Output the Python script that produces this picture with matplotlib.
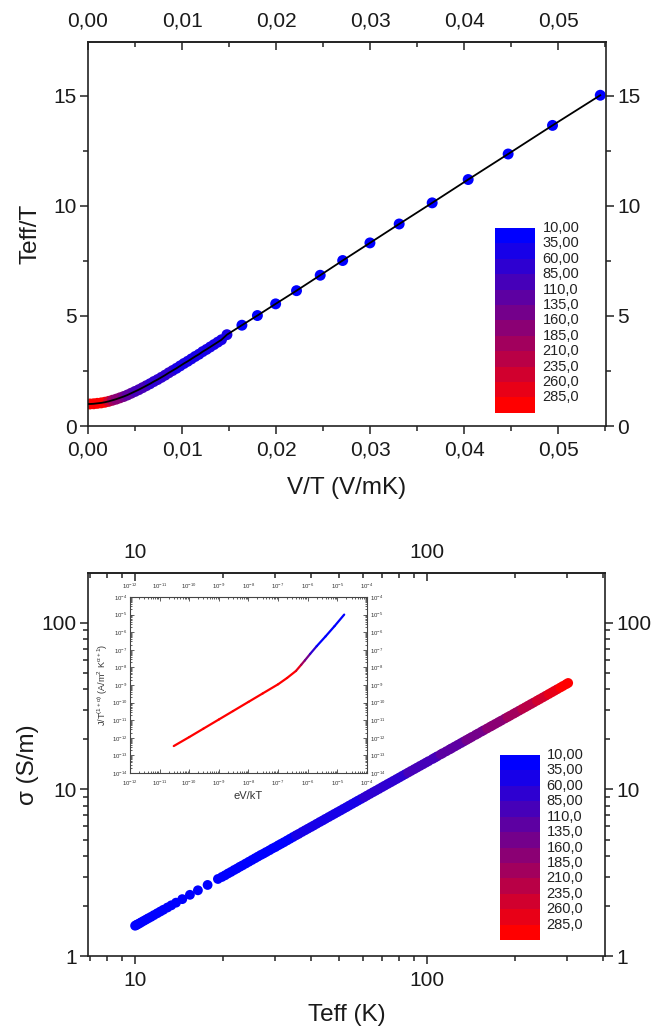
import numpy as np
import matplotlib
matplotlib.use('Agg')
import matplotlib.pyplot as plt
from matplotlib.ticker import FuncFormatter, LogLocator, NullFormatter, FixedLocator
from matplotlib.collections import LineCollection
from matplotlib.colors import ListedColormap

plt.rcParams['font.family'] = ['Liberation Sans', 'DejaVu Sans']
plt.rcParams['mathtext.default'] = 'regular'

# ---------------- data: top panel (Teff/T vs V/T) ----------------
V_BIAS = 0.545  # V, so that T = V / (V/T)
vt_dense = [0.0002, 0.0006, 0.0010, 0.0014, 0.0018, 0.0022, 0.0026, 0.0030, 0.0034,
            0.0038, 0.0042, 0.0046, 0.0050, 0.0054, 0.0058, 0.0062, 0.0066, 0.0070,
            0.0074, 0.0078, 0.0082, 0.0086, 0.0090, 0.0094, 0.0098, 0.0102, 0.0106,
            0.0110, 0.0114, 0.0118, 0.0122, 0.0126, 0.0130, 0.0134, 0.0138, 0.0142]
teffT_dense = [1.00, 1.01, 1.03, 1.05, 1.08, 1.12, 1.17, 1.22, 1.28,
               1.34, 1.41, 1.49, 1.57, 1.65, 1.74, 1.83, 1.92, 2.02,
               2.11, 2.21, 2.31, 2.42, 2.52, 2.62, 2.73, 2.84, 2.94,
               3.05, 3.16, 3.26, 3.38, 3.48, 3.59, 3.70, 3.81, 3.92]
vt_sparse = [0.01478, 0.01637, 0.01802, 0.01996, 0.02218, 0.02470, 0.02709,
             0.02999, 0.03310, 0.03661, 0.04044, 0.04469, 0.04941, 0.05449]
teffT_sparse = [4.15, 4.58, 5.02, 5.55, 6.15, 6.85, 7.52,
                8.32, 9.18, 10.14, 11.20, 12.36, 13.66, 15.03]
fit_start_vt = [0.0]
fit_start_teffT = [1.0]
vt_ticks = [0.00, 0.01, 0.02, 0.03, 0.04, 0.05]
vt_minor = [0.005, 0.015, 0.025, 0.035, 0.045, 0.055]
teffT_ticks = [0, 5, 10, 15]
teffT_minor = [2.5, 7.5, 12.5]

# ---------------- data: bottom panel (sigma vs Teff) ----------------
teff_K = [10.0, 10.1, 10.2, 10.35, 10.5, 10.7, 10.9, 11.1, 11.35, 11.6, 11.9, 12.2, 12.5,
          12.9, 13.3, 13.8, 14.5, 15.4, 16.4, 17.7, 19.2,
          19.8, 20.3, 20.8, 21.3, 21.8, 22.3, 22.8, 23.3, 23.9, 24.5, 25.1, 25.7, 26.3,
          26.9, 27.5, 28.1, 28.8, 29.5, 30.2, 30.9, 31.6, 32.3, 33.1, 33.9, 34.7, 35.5,
          36.3, 37.2, 38.1, 39.0, 39.9, 40.8, 41.8, 42.8, 43.8, 44.8, 45.9, 47.0, 48.1,
          49.2, 50.4, 51.6, 52.8, 54.0, 55.3, 56.6, 57.9, 59.3, 60.7, 62.1, 63.6, 65.1,
          66.6, 68.2, 69.8, 71.4, 73.1, 74.8, 76.6, 78.4, 80.2, 82.1, 84.0, 86.0, 88.0,
          90.1, 92.2, 94.4, 96.6, 98.9, 101, 104, 106, 108, 111, 113, 116, 119, 121,
          124, 127, 130, 133, 136, 139, 142, 146, 149, 153, 156, 160, 164, 167, 171,
          175, 179, 184, 188, 192, 197, 201, 206, 211, 216, 221, 226, 231, 237, 242,
          248, 254, 260, 266, 272, 278, 285, 291, 298, 303]
sigma_Sm = [1.52, 1.535, 1.55, 1.57, 1.595, 1.625, 1.655, 1.685, 1.72, 1.76, 1.805, 1.85, 1.895,
            1.955, 2.015, 2.09, 2.195, 2.33, 2.48, 2.67, 2.90,
            2.98, 3.05, 3.13, 3.20, 3.28, 3.35, 3.43, 3.50, 3.59, 3.68, 3.77, 3.86, 3.95,
            4.04, 4.12, 4.21, 4.31, 4.42, 4.51, 4.62, 4.72, 4.82, 4.94, 5.06, 5.18, 5.30,
            5.41, 5.55, 5.68, 5.81, 5.94, 6.07, 6.22, 6.37, 6.51, 6.66, 6.82, 6.98, 7.14,
            7.30, 7.47, 7.65, 7.82, 8.00, 8.19, 8.38, 8.57, 8.77, 8.97, 9.18, 9.40, 9.62,
            9.83, 10.06, 10.30, 10.53, 10.78, 11.02, 11.28, 11.54, 11.80, 12.08, 12.35, 12.64, 12.93,
            13.23, 13.53, 13.85, 14.16, 14.49, 14.79, 15.22, 15.51, 15.80, 16.23, 16.52, 16.94, 17.37, 17.66,
            18.09, 18.52, 18.95, 19.38, 19.81, 20.24, 20.67, 21.24, 21.67, 22.24, 22.67, 23.23, 23.80, 24.22, 24.78,
            25.35, 25.91, 26.62, 27.18, 27.74, 28.45, 29.02, 29.72, 30.43, 31.13, 31.84, 32.55, 33.25, 34.10, 34.81,
            35.66, 36.51, 37.37, 38.23, 39.09, 39.95, 40.93, 41.80, 42.80, 43.55]
teff_ticks = [10, 100]
sigma_ticks = [1, 10, 100]

# ---------------- data: inset (J/T^(1+a) vs eV/kT) ----------------
inset_evkt = [3.0e-11, 1e-10, 3e-10, 1e-9, 3e-9, 1e-8, 3e-8, 1e-7, 2e-7, 4e-7, 6e-7, 8e-7,
              1.2e-6, 2e-6, 4e-6, 8e-6, 1.7e-5]
inset_J = [3.4e-13, 1.1e-12, 3.3e-12, 1.1e-11, 3.3e-11, 1.1e-10, 3.3e-10, 1.1e-9, 2.5e-9, 6.3e-9,
           1.4e-8, 2.5e-8, 5.8e-8, 1.6e-7, 5.8e-7, 2.2e-6, 1.0e-5]
inset_T = [300, 300, 300, 300, 300, 300, 300, 300, 300, 290, 240, 170, 110, 40, 10, 10, 10]

# ---------------- colour scale ----------------
cbar_bounds = [10, 35, 60, 85, 110, 135, 160, 185, 210, 235, 260, 285, 310]
cbar_labels = ['10,00', '35,00', '60,00', '85,00', '110,0', '135,0', '160,0',
               '185,0', '210,0', '235,0', '260,0', '285,0']
n_lev = len(cbar_labels)
level_colors = [(i / (n_lev - 1), 0.0, 1.0 - i / (n_lev - 1)) for i in range(n_lev)]


def temp_color(T):
    idx = int(np.clip(np.floor((T - cbar_bounds[0]) / 25.0), 0, n_lev - 1))
    return level_colors[idx]


W, H = 654, 1027
fig = plt.figure(figsize=(W / 100, H / 100), dpi=100)


def frac(l, t, r, b):
    return [l / W, 1 - b / H, (r - l) / W, (b - t) / H]


comma2 = FuncFormatter(lambda v, p: f"{v:.2f}".replace('.', ','))
plain = FuncFormatter(lambda v, p: f"{v:g}")
TICK_FS = 15
LABEL_FS = 17.5
INK = '#1a1a1a'


def log_minor(lo_dec, hi_dec):
    return [m * 10.0 ** d for d in range(lo_dec, hi_dec) for m in range(2, 10)]


def style_axes(ax):
    for s in ax.spines.values():
        s.set_linewidth(1.2)
        s.set_color('#222222')
    ax.tick_params(which='both', colors='#222222', labelcolor=INK, width=1.1,
                   labelsize=TICK_FS)
    ax.tick_params(which='major', length=6)
    ax.tick_params(which='minor', length=3.5)
    ax.tick_params(axis='x', which='both', bottom=True, top=False, labelbottom=True,
                   labeltop=False, direction='out', pad=4.5)
    ax.tick_params(axis='y', which='both', left=True, right=True, labelleft=True,
                   labelright=True, direction='out', pad=2)


def top_axis(ax, major, minor, fmt):
    sec = ax.secondary_xaxis('top')
    sec.xaxis.set_major_locator(FixedLocator(major))
    sec.xaxis.set_minor_locator(FixedLocator(minor))
    sec.xaxis.set_major_formatter(fmt)
    sec.xaxis.set_minor_formatter(NullFormatter())
    sec.spines['top'].set_linewidth(1.2)
    sec.spines['top'].set_color('#222222')
    sec.tick_params(which='both', direction='in', colors='#222222', labelcolor=INK,
                    width=1.1, labelsize=TICK_FS, pad=8)
    sec.tick_params(which='major', length=6)
    sec.tick_params(which='minor', length=3.5)
    return sec


# ---------------- top panel ----------------
ax1 = fig.add_axes(frac(88, 42, 606, 426))
vt_all = vt_dense + vt_sparse
teffT_all = teffT_dense + teffT_sparse
cols1 = [temp_color(V_BIAS / v) for v in vt_all]
ax1.scatter(vt_all, teffT_all, s=62, c=cols1, edgecolors='none', zorder=2)
ax1.plot(fit_start_vt + vt_all, fit_start_teffT + teffT_all, color='black', lw=1.3, zorder=3)
ax1.set_xlim(0, 0.0551)
ax1.set_ylim(0, 17.45)
ax1.xaxis.set_major_locator(FixedLocator(vt_ticks))
ax1.xaxis.set_minor_locator(FixedLocator(vt_minor))
ax1.xaxis.set_major_formatter(comma2)
ax1.yaxis.set_major_locator(FixedLocator(teffT_ticks))
ax1.yaxis.set_minor_locator(FixedLocator(teffT_minor))
ax1.yaxis.set_major_formatter(plain)
style_axes(ax1)
top_axis(ax1, vt_ticks, vt_minor, comma2)
ax1.set_xlabel('V/T (V/mK)', fontsize=LABEL_FS, color=INK)
ax1.set_ylabel('Teff/T', fontsize=LABEL_FS, color=INK)
ax1.xaxis.set_label_coords(0.5, -0.133)
ax1.yaxis.set_label_coords(-0.09, 0.5)

# ---------------- bottom panel ----------------
ax2 = fig.add_axes(frac(88, 572.7, 605, 956))
cols2 = [temp_color(t) for t in teff_K]
ax2.scatter(teff_K, sigma_Sm, s=50, c=cols2, edgecolors='none', zorder=2)
ax2.set_xscale('log')
ax2.set_yscale('log')
ax2.set_xlim(6.9, 405)
ax2.set_ylim(1, 200)
ax2.xaxis.set_major_locator(FixedLocator(teff_ticks))
ax2.yaxis.set_major_locator(FixedLocator(sigma_ticks))
ax2.xaxis.set_minor_locator(FixedLocator([v for v in log_minor(0, 3) if 6.9 < v < 405]))
ax2.yaxis.set_minor_locator(FixedLocator([v for v in log_minor(0, 3) if 1 < v < 200]))
ax2.xaxis.set_major_formatter(plain)
ax2.yaxis.set_major_formatter(plain)
ax2.xaxis.set_minor_formatter(NullFormatter())
ax2.yaxis.set_minor_formatter(NullFormatter())
style_axes(ax2)
top_axis(ax2, teff_ticks, [v for v in log_minor(0, 3) if 6.9 < v < 405], plain)
ax2.set_xlabel('Teff (K)', fontsize=LABEL_FS, color=INK)
ax2.set_ylabel('σ (S/m)', fontsize=LABEL_FS, color=INK)
ax2.xaxis.set_label_coords(0.5, -0.124)
ax2.yaxis.set_label_coords(-0.094, 0.5)

# ---------------- inset ----------------
axi = fig.add_axes(frac(130, 597, 367, 773))
pts = np.column_stack([inset_evkt, inset_J])
segs = [pts[i:i + 2] for i in range(len(pts) - 1)]
seg_cols = [temp_color(0.5 * (inset_T[i] + inset_T[i + 1])) for i in range(len(pts) - 1)]
axi.set_xscale('log')
axi.set_yscale('log')
axi.add_collection(LineCollection(segs, colors=seg_cols, linewidths=1.6, capstyle='round'))
axi.set_xlim(1e-12, 1e-4)
axi.set_ylim(1e-14, 1e-4)
axi.xaxis.set_major_locator(LogLocator(base=10, numticks=20))
axi.yaxis.set_major_locator(LogLocator(base=10, numticks=20))
axi.xaxis.set_minor_locator(LogLocator(base=10, subs=np.arange(2, 10), numticks=20))
axi.yaxis.set_minor_locator(LogLocator(base=10, subs=np.arange(2, 10), numticks=20))
axi.xaxis.set_minor_formatter(NullFormatter())
axi.yaxis.set_minor_formatter(NullFormatter())
for s in axi.spines.values():
    s.set_linewidth(0.8)
    s.set_color('#444444')
axi.tick_params(which='both', direction='in', colors='#444444', labelcolor='#333333',
                labelsize=4.3, width=0.6, top=True, right=True, labeltop=True,
                labelright=True, pad=2)
axi.tick_params(axis='x', which='both', pad=4)
axi.tick_params(which='major', length=3)
axi.tick_params(which='minor', length=1.5)
axi.set_xlabel('eV/kT', fontsize=8, color='#333333', labelpad=2)
axi.set_ylabel(r'J/T$^{(1+\alpha)}$ (A/m$^2$ K$^{\alpha+1}$)', fontsize=6.5, color='#333333',
               labelpad=1)


# ---------------- colour legends ----------------
def color_legend(l, t, r, b, lab_x):
    cax = fig.add_axes(frac(l, t, r, b))
    cmap = ListedColormap(level_colors)
    vals = np.arange(n_lev).reshape(-1, 1)
    cax.pcolormesh([0, 1], cbar_bounds, vals, cmap=cmap, vmin=-0.5, vmax=n_lev - 0.5)
    cax.set_ylim(cbar_bounds[-1], cbar_bounds[0])
    cax.set_xlim(0, 1)
    cax.axis('off')
    for bnd, lab in zip(cbar_bounds[:-1], cbar_labels):
        yfig = 1 - (t + (b - t) * (bnd - cbar_bounds[0]) / (cbar_bounds[-1] - cbar_bounds[0])) / H
        fig.text(lab_x / W, yfig, lab, fontsize=10.5, color='#222222', va='center', ha='left')


color_legend(495, 228, 535, 412.7, 542.5)
color_legend(500, 755, 540, 940, 546.5)

fig.savefig('out.png', dpi=100)
